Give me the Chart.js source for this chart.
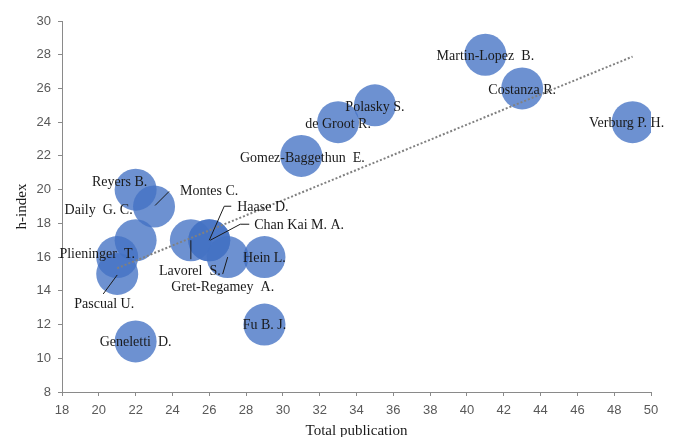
<!DOCTYPE html>
<html>
<head>
<meta charset="utf-8">
<script src="https://cdn.jsdelivr.net/npm/chart.js@4/dist/chart.umd.min.js"></script>
<style>
  html, body { margin: 0; padding: 0; background: #fff; }
  #wrap { width: 677px; height: 437px; position: relative; }
</style>
</head>
<body>
<div id="wrap"><canvas id="c" width="677" height="437"></canvas></div>
<script>
// ---- data ----
const authors = [
  "Martin-Lopez  B.", "Costanza R.", "Verburg P. H.", "Polasky S.", "de Groot R.",
  "Gomez-Baggethun  E.", "Reyers B.", "Montes C.", "Daily  G. C.", "Plieninger  T.",
  "Pascual U.", "Lavorel  S.", "Haase D.", "Chan Kai M. A.", "Gret-Regamey  A.",
  "Hein L.", "Fu B. J.", "Geneletti  D."
];
const totalPublication = [41, 43, 49, 35, 33, 31, 22, 23, 22, 21, 21, 25, 26, 26, 27, 29, 29, 22];
const hIndex           = [28, 26, 24, 25, 24, 22, 20, 19, 17, 16, 15, 17, 17, 17, 16, 16, 12, 11];
const xTicks = [18, 50, 2];   // min, max, step
const yTicks = [8, 30, 2];

// ---- label placement (style, pixels relative to bubble centre) ----
// [dx, dy, align, leaderPoints]
const labelPlacement = [
  [0, 2, 'center', null],
  [0, 2, 'center', null],
  [-6, 1, 'center', null],
  [0, 2, 'center', null],
  [0, 2, 'center', null],
  [1, 2, 'center', null],
  [-16, -7, 'center', null],
  [26, -15, 'left', [[1, -1], [15, -15]]],
  [-37, -30, 'center', null],
  [-20, -3, 'center', null],
  [-13, 30, 'center', [[0, 1], [-14, 20]]],
  [-1, 31, 'center', [[0, 0], [0, 19]]],
  [28, -33, 'left', [[0, 0], [15, -34], [22, -34]]],
  [45, -15, 'left', [[1, 0], [31, -16], [40, -16]]],
  [-5, 30, 'center', [[0, 0], [-5, 17]]],
  [0, 1, 'center', null],
  [0, 1, 'center', null],
  [0, 1, 'center', null]
];

// least-squares trend line (as in the spreadsheet trendline)
function trend(xs, ys) {
  const n = xs.length;
  const mx = xs.reduce((a, b) => a + b, 0) / n;
  const my = ys.reduce((a, b) => a + b, 0) / n;
  let sxy = 0, sxx = 0;
  for (let i = 0; i < n; i++) { sxy += (xs[i] - mx) * (ys[i] - my); sxx += (xs[i] - mx) ** 2; }
  const b = sxy / sxx, a = my - b * mx;
  const x0 = Math.min(...xs), x1 = Math.max(...xs);
  return [{ x: x0, y: a + b * x0 }, { x: x1, y: a + b * x1 }];
}

const bubbleData = totalPublication.map((x, i) => ({ x: x, y: hIndex[i] }));

const labelPlugin = {
  id: 'authorLabels',
  afterDatasetsDraw(chart) {
    const ctx = chart.ctx;
    const meta = chart.getDatasetMeta(1);
    ctx.save();
    ctx.font = '14px "Liberation Serif", "Times New Roman", serif';
    ctx.fillStyle = '#1a1a1a';
    ctx.strokeStyle = '#1a1a1a';
    ctx.lineWidth = 1;
    ctx.textBaseline = 'middle';
    meta.data.forEach((pt, i) => {
      const p = labelPlacement[i];
      const cx = pt.x, cy = pt.y;
      if (p[3]) {
        ctx.beginPath();
        p[3].forEach((q, k) => {
          if (k === 0) ctx.moveTo(cx + q[0], cy + q[1]);
          else ctx.lineTo(cx + q[0], cy + q[1]);
        });
        ctx.stroke();
      }
      ctx.textAlign = p[2];
      ctx.fillText(authors[i], cx + p[0], cy + p[1]);
    });
    ctx.restore();
  }
};

const axisColor = '#8a8a8a';
const tickFont = { family: '"Liberation Sans", Arial, sans-serif', size: 13 };
const titleFont = { family: '"Liberation Serif", "Times New Roman", serif', size: 15, lineHeight: 1 };

new Chart(document.getElementById('c'), {
  data: {
    datasets: [
      {
        type: 'line',
        data: trend(totalPublication, hIndex),
        borderColor: '#808080',
        borderWidth: 2,
        borderDash: [2, 2],
        pointRadius: 0,
        fill: false,
        order: 0
      },
      {
        type: 'bubble',
        data: bubbleData,
        radius: 21,
        backgroundColor: 'rgba(68,114,196,0.78)',
        borderWidth: 0,
        order: 1
      }
    ]
  },
  options: {
    responsive: false,
    animation: false,
    events: [],
    layout: { padding: { top: 16, right: 26, left: 0, bottom: 0 } },
    plugins: { legend: { display: false }, tooltip: { enabled: false } },
    scales: {
      x: {
        type: 'linear',
        min: xTicks[0], max: xTicks[1],
        ticks: { stepSize: xTicks[2], color: '#595959', font: tickFont, padding: 7, maxRotation: 0 },
        grid: { display: true, drawOnChartArea: false, drawTicks: true, tickLength: 4, color: axisColor },
        border: { display: true, color: axisColor, width: 1 },
        title: { display: true, text: 'Total publication', color: '#1a1a1a', font: titleFont, padding: { top: 0, bottom: -2 } },
        afterFit(s) { s.height = 45; }
      },
      y: {
        type: 'linear',
        min: yTicks[0], max: yTicks[1],
        ticks: { stepSize: yTicks[2], color: '#595959', font: tickFont, padding: 7 },
        grid: { display: true, drawOnChartArea: false, drawTicks: true, tickLength: 4, color: axisColor },
        border: { display: true, color: axisColor, width: 1 },
        title: { display: true, text: 'h-index', color: '#1a1a1a', font: titleFont, padding: { top: 15, bottom: 0 } },
        afterFit(s) { s.width = 62; }
      }
    }
  },
  plugins: [labelPlugin]
});
</script>
</body>
</html>
